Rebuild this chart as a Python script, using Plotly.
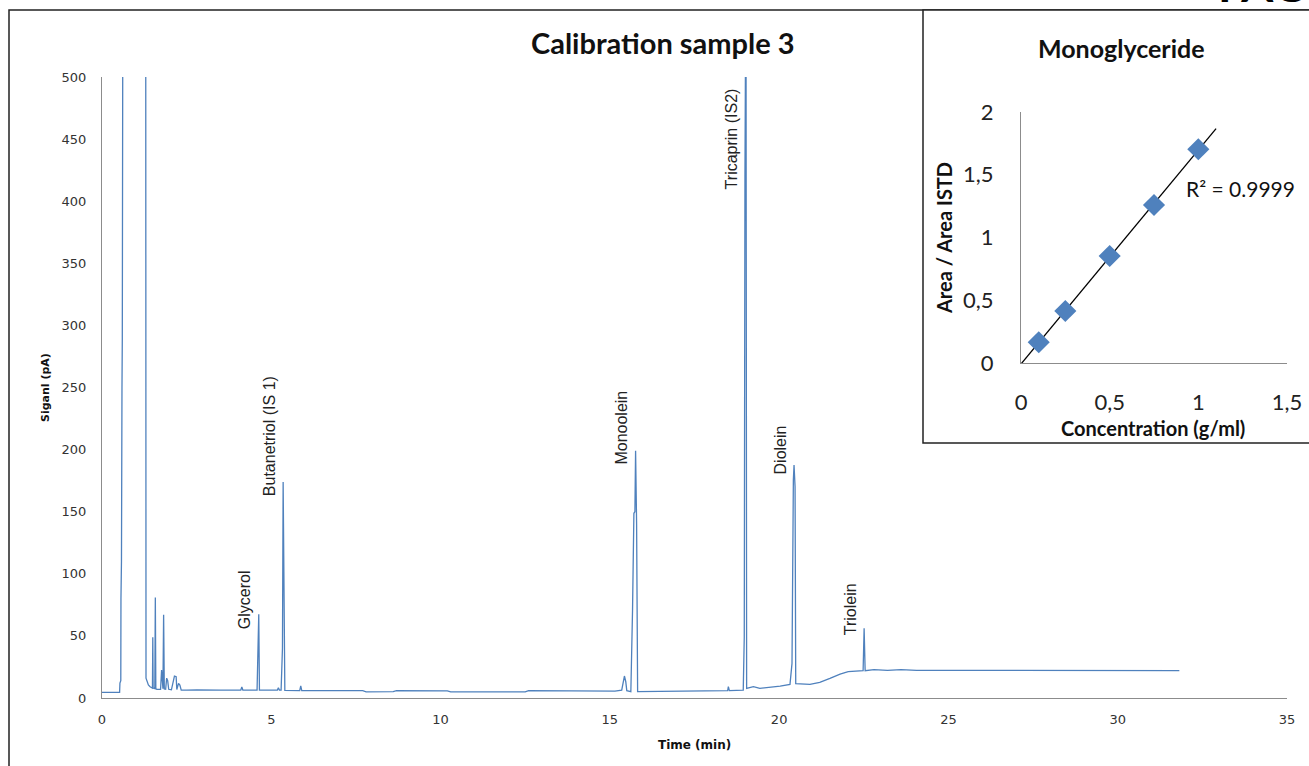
import numpy as np
import plotly.graph_objects as go

# ---------------- data ----------------
# chromatogram (time in min, signal in pA)
time_min = [0.00, 0.52, 0.53, 0.555, 0.56, 0.575, 0.59, 0.60, 0.62, 1.29, 1.30, 1.37, 1.42, 1.47,
            1.49, 1.50, 1.51, 1.56, 1.575, 1.59, 1.62, 1.73, 1.76, 1.80, 1.82, 1.84, 1.88, 1.91,
            1.94, 1.97, 2.05, 2.14, 2.19, 2.21, 2.26, 2.30, 2.34, 2.50, 2.80, 3.50, 4.10, 4.13,
            4.16, 4.58, 4.60, 4.63, 4.65, 5.18, 5.21, 5.24, 5.29, 5.31, 5.33, 5.35, 5.38, 5.40,
            5.84, 5.87, 5.90, 7.70, 7.80, 8.60, 8.70, 10.20, 10.30, 12.50, 12.60, 15.15, 15.35,
            15.40, 15.43, 15.47, 15.50, 15.62, 15.64, 15.67, 15.71, 15.74, 15.76, 15.79, 15.82,
            18.48, 18.50, 18.53, 18.94, 18.97, 18.99, 19.00, 19.02, 19.04, 19.24, 19.43, 20.03,
            20.32, 20.35, 20.38, 20.42, 20.44, 20.47, 20.49, 20.91, 21.20, 21.50, 21.80, 22.04,
            22.39, 22.48, 22.51, 22.54, 22.80, 23.20, 23.60, 24.06, 31.82]
signal_pA = [4.6, 4.6, 12, 14, 80, 110, 250, 290, 650, 650, 16, 10.5, 9.1, 8.3,
             8.0, 49, 8.0, 7.6, 81, 7.4, 7.0, 7.0, 22.5, 7.5, 67, 7.2, 7.0, 16,
             14, 7.0, 6.6, 17.7, 17.2, 6.8, 11.8, 10.5, 6.4, 6.4, 6.6, 6.4, 6.4, 8.8,
             6.4, 6.4, 33, 67.4, 6.4, 6.4, 8.3, 6.4, 6.4, 22, 40, 174, 49, 6.2,
             6.0, 9.7, 6.0, 5.9, 5.0, 5.2, 5.9, 5.8, 4.9, 4.9, 6.0, 5.6, 6.4,
             13.1, 17.7, 13.1, 5.9, 5.1, 23.9, 70.9, 148.7, 150.0, 199.1, 140.6, 5.1,
             5.9, 9.1, 5.9, 6.4, 49.4, 420, 600, 600, 7.8, 9.1, 7.8, 9.5,
             11.0, 19.8, 27.9, 175.5, 187.6, 170, 11.5, 11.0, 12.6, 15.8, 19.3, 21.2,
             22.0, 22.0, 56.1, 22.0, 22.8, 22.2, 22.9, 22.3, 22.0]

# peak labels
peak_names = ["Glycerol", "Butanetriol (IS 1)", "Monoolein", "Tricaprin (IS2)", "Diolein", "Triolein"]
peak_times = [4.63, 5.35, 15.76, 19.01, 20.44, 22.51]
label_base = [54, 161, 186, 408, 178, 49]

# calibration inset (monoglyceride)
conc_g_ml = [0.1, 0.25, 0.5, 0.75, 1.0]
area_ratio = [0.165, 0.414, 0.853, 1.259, 1.703]
r2_text = "R² = 0.9999"

# ---------------- figure ----------------
W, H = 1309, 766
def px(x):
    return x / W
def py(y):
    return 1 - y / H

blue = "#4F81BD"
axis_gray = "#8c8c8c"

fig = go.Figure()

fig.add_trace(go.Scatter(x=time_min, y=signal_pA, mode="lines",
                         line=dict(color=blue, width=1.3), showlegend=False,
                         xaxis="x", yaxis="y"))

slope, intercept = np.polyfit(conc_g_ml, area_ratio, 1)
trend_x = [0.0, 1.1]
trend_y = [slope * v + intercept for v in trend_x]
fig.add_trace(go.Scatter(x=trend_x, y=trend_y, mode="lines",
                         line=dict(color="black", width=1.3), showlegend=False,
                         xaxis="x2", yaxis="y2"))
fig.add_trace(go.Scatter(x=conc_g_ml, y=area_ratio, mode="markers",
                         marker=dict(symbol="diamond", size=17, color=blue,
                                     line=dict(width=0)),
                         showlegend=False, xaxis="x2", yaxis="y2"))

main_tick_font = dict(family="DejaVu Sans", size=13, color="#333333")
inset_tick_font = dict(family="Lato", size=22, color="#222222")

fig.update_layout(
    width=W, height=H,
    margin=dict(l=0, r=0, t=0, b=0, autoexpand=False),
    paper_bgcolor="white", plot_bgcolor="rgba(0,0,0,0)",
    separators=",.",
    xaxis=dict(domain=[px(102), px(1287)], range=[0, 35], dtick=5,
               showline=True, linecolor=axis_gray, linewidth=1,
               showgrid=False, zeroline=False, ticks="",
               tickfont=main_tick_font, ticklabelstandoff=9, anchor="y"),
    yaxis=dict(domain=[py(698), py(77)], range=[0, 500], dtick=50,
               showline=True, linecolor=axis_gray, linewidth=1,
               showgrid=False, zeroline=False, ticks="",
               tickfont=main_tick_font, ticklabelstandoff=12, anchor="x"),
    xaxis2=dict(domain=[px(1021), px(1287)], range=[0, 1.5], dtick=0.5,
                showline=True, linecolor=axis_gray, linewidth=1,
                showgrid=False, zeroline=False, ticks="",
                tickfont=inset_tick_font, ticklabelstandoff=20, anchor="y2"),
    yaxis2=dict(domain=[py(363), py(112)], range=[0, 2], dtick=0.5,
                showline=True, linecolor=axis_gray, linewidth=1,
                showgrid=False, zeroline=False, ticks="",
                tickfont=inset_tick_font, ticklabelstandoff=22, anchor="x2"),
)

shapes = [
    dict(type="rect", xref="paper", yref="paper", x0=px(9), x1=1.05, y0=-0.05, y1=py(10),
         line=dict(color="#222222", width=1.5), fillcolor="rgba(0,0,0,0)", layer="below"),
    dict(type="rect", xref="paper", yref="paper", x0=px(923), x1=1.05, y0=py(443), y1=py(10),
         line=dict(color="#222222", width=1.5), fillcolor="white", layer="below"),
]
fig.update_layout(shapes=shapes)

ann = []
# titles
ann.append(dict(text="<b>Calibration sample 3</b>", x=px(663), y=py(42), xref="paper", yref="paper",
                xanchor="center", yanchor="middle", showarrow=False,
                font=dict(family="Lato", size=29, color="#111111")))
ann.append(dict(text="<b>Time (min)</b>", x=px(694.5), y=py(745), xref="paper", yref="paper",
                xanchor="center", yanchor="middle", showarrow=False,
                font=dict(family="DejaVu Sans", size=12, color="#111111")))
ann.append(dict(text="<b>Siganl (pA)</b>", x=px(45.5), y=py(387.5), xref="paper", yref="paper",
                xanchor="center", yanchor="middle", showarrow=False, textangle=-90,
                font=dict(family="DejaVu Sans", size=11, color="#111111")))
# inset texts
ann.append(dict(text="<b>Monoglyceride</b>", x=px(1121), y=py(48), xref="paper", yref="paper",
                xanchor="center", yanchor="middle", showarrow=False,
                font=dict(family="Lato", size=25, color="#111111")))
ann.append(dict(text="<b>Area / Area ISTD</b>", x=px(944), y=py(238), xref="paper", yref="paper",
                xanchor="center", yanchor="middle", showarrow=False, textangle=-90,
                font=dict(family="Lato", size=20, color="#111111")))
ann.append(dict(text="<b>Concentration (g/ml)</b>", x=px(1153), y=py(428), xref="paper", yref="paper",
                xanchor="center", yanchor="middle", showarrow=False,
                font=dict(family="Lato", size=20, color="#111111")))
ann.append(dict(text=r2_text, x=px(1184), y=py(188), xref="paper", yref="paper",
                xanchor="left", yanchor="middle", showarrow=False,
                font=dict(family="Lato", size=21, color="#111111")))
# clipped heading at the top right
ann.append(dict(text="<b>FAG</b>", x=px(1216), y=py(14), xref="paper", yref="paper",
                xanchor="left", yanchor="bottom", showarrow=False,
                font=dict(family="Lato", size=46, color="#000000")))
# peak labels
for name, t, yb in zip(peak_names, peak_times, label_base):
    ann.append(dict(text=name, x=t, y=yb, xref="x", yref="y", xanchor="center", yanchor="bottom",
                    xshift=-14, showarrow=False, textangle=-90,
                    font=dict(family="Liberation Sans", size=16, color="#222222")))
fig.update_layout(annotations=ann)

fig.write_html("out.html", config={"displayModeBar": False},
               post_script="document.body.style.margin='0px';")
